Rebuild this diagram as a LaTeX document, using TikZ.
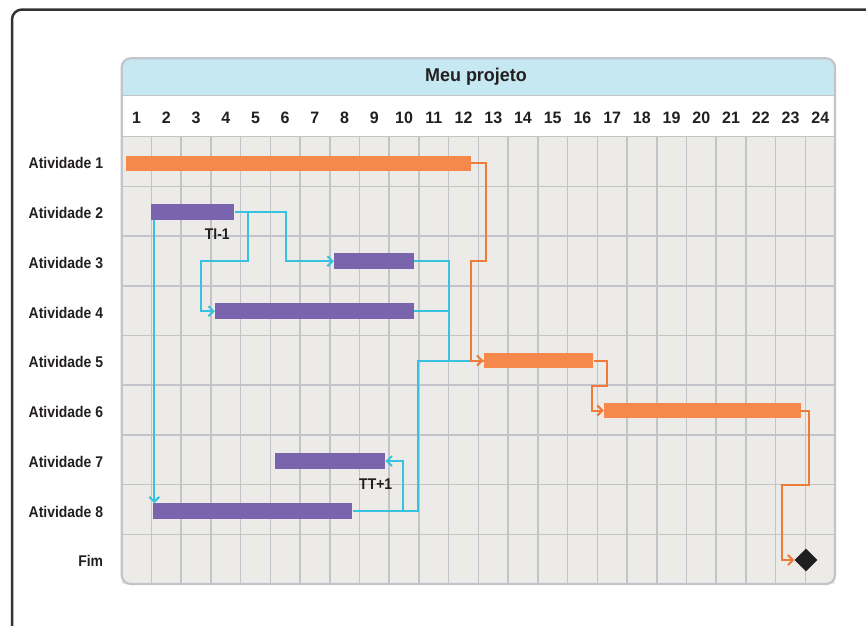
\documentclass[tikz,border=0pt]{standalone}
\usepackage{fontspec}
\setmainfont{Liberation Sans}[FakeStretch=0.9]
\newfontfamily\widefont{Liberation Sans}[FakeStretch=0.97]
\usetikzlibrary{arrows.meta,shapes.geometric}
\definecolor{barorange}{HTML}{F4894B}
\definecolor{lineorange}{HTML}{F07A3A}
\definecolor{barpurple}{HTML}{7B64AE}
\definecolor{linecyan}{HTML}{38C2E2}
\definecolor{gridbg}{HTML}{ECEBE7}
\definecolor{gridline}{HTML}{C3C3CA}
\definecolor{headblue}{HTML}{C5E8F3}
\definecolor{txt}{HTML}{231F20}
\tikzset{
  bar/.style={rectangle, inner sep=0pt, minimum height=15.5, draw=none},
  obar/.style={bar, fill=barorange},
  pbar/.style={bar, fill=barpurple},
  lbl/.style={font=\bfseries\fontsize{15.5}{17}\selectfont, text=txt, inner sep=0pt},
  numlbl/.style={font=\widefont\bfseries\fontsize{16.5}{18}\selectfont, text=txt, inner sep=0pt},
  titlelbl/.style={font=\widefont\bfseries\fontsize{18.5}{20}\selectfont, text=txt, inner sep=0pt},
  rowlbl/.style={lbl, anchor=east},
  oline/.style={draw=lineorange, line width=2pt},
  bline/.style={draw=linecyan, line width=2pt},
  tip/.style={-{Straight Barb[length=5pt,width=10pt,line width=2pt]}},
}
\begin{document}
\begin{tikzpicture}[x=1pt,y=-1pt]
\useasboundingbox (0,0) rectangle (866,625);
\begin{scope}
\clip (0,0) rectangle (866,625);
% outer frame
\draw[draw=black!80, line width=2.5pt, rounded corners=10] (12,9.5) rectangle (950,720);
% header band
\fill[headblue, rounded corners=9] (121.7,58.3) rectangle (835,110);
\fill[headblue] (121.7,80) rectangle (835,95);
\fill[white] (121.7,95) rectangle (835,136.7);
\draw[gridline, line width=1pt] (121.7,95) -- (835,95);
% grid background
\fill[gridbg] (121.7,136.7) rectangle (835,584);
\foreach \i in {1,...,23} {
  \draw[gridline, line width=1.5pt] ({121.7+\i*29.725},136.7) -- ({121.7+\i*29.725},584);
}
\foreach \j in {1,...,8} {
  \draw[gridline, line width=1.5pt] (121.7,{136.7+\j*49.7}) -- (835,{136.7+\j*49.7});
}
\draw[gridline, line width=1.5pt] (121.7,136.7) -- (835,136.7);
% chart frame
\draw[gridline, line width=2.2pt, rounded corners=9] (121.7,584) -- (121.7,58.3) -- (835,58.3) -- (835,584) -- cycle;
\end{scope}

% title and numbers
\node[titlelbl] (title) at (476,77) {Meu projeto};
\foreach \i in {1,...,24} {
  \node[numlbl] (n\i) at ({121.7+(\i-0.5)*29.725},118) {\i};
}

% row labels
\node[rowlbl] (l1) at (103.3,163) {Atividade 1};
\node[rowlbl] (l2) at (103.3,213) {Atividade 2};
\node[rowlbl] (l3) at (103.3,263) {Atividade 3};
\node[rowlbl] (l4) at (103.3,313) {Atividade 4};
\node[rowlbl] (l5) at (103.3,362) {Atividade 5};
\node[rowlbl] (l6) at (103.3,412) {Atividade 6};
\node[rowlbl] (l7) at (103.3,462) {Atividade 7};
\node[rowlbl] (l8) at (103.3,512) {Atividade 8};
\node[rowlbl] (l9) at (103.3,561) {Fim};

% bars
\node[obar, minimum width=345] (b1) at (298.5,163.4) {};
\node[pbar, minimum width=83.6] (b2) at (192.5,212.1) {};
\node[pbar, minimum width=80] (b3) at (374,261.2) {};
\node[pbar, minimum width=199] (b4) at (314.5,311.2) {};
\node[obar, minimum width=109.6] (b5) at (538.5,360.5) {};
\node[obar, minimum width=196.7] (b6) at (702.35,410.5) {};
\node[pbar, minimum width=110.3] (b7) at (330.15,461) {};
\node[pbar, minimum width=199] (b8) at (252.8,511.2) {};
\node[diamond, fill=black!88, inner sep=0pt, minimum width=23, minimum height=23] (fim) at (806,560) {};

% lag labels
\node[lbl] (ti) at (217.3,234.5) {TI-1};
\node[lbl] (tt) at (375.7,484.5) {TT+1};

% cyan connectors
\coordinate (s2) at ([xshift=3.8]b2.south west);
\draw[bline, tip] (s2) -- (s2 |- b8.north);
\coordinate (j2) at (248.3,212.1);
\draw[bline, tip] (b2.east) -- (285.7,212.1) |- (b3.west);
\draw[bline, tip] (j2) -- (248.3,261) -- (200.7,261) |- (b4.west);
\coordinate (j34) at (449.3,311.2);
\draw[bline] (b3.east) -- (449.3,261.2) -- (449.3,360.5);
\draw[bline] (b4.east) -- (j34);
\coordinate (j8) at (403.3,511.2);
\draw[bline] (b8.east) -- (418.3,511.2) -- (418.3,360.5) -- (b5.west);
\draw[bline, tip] (j8) |- (b7.east);

% orange connectors
\draw[oline, tip] (b1.east) -- (486,163.4) -- (486,261) -- (470.7,261) |- (b5.west);
\draw[oline, tip] (b5.east) -- (606.7,360.5) -- (606.7,385.5) -- (591.7,385.5) |- (b6.west);
\draw[oline, tip] (b6.east) -- (809.3,410.5) -- (809.3,485.3) -- (781.7,485.3) |- (fim.west);
\end{tikzpicture}
\end{document}
